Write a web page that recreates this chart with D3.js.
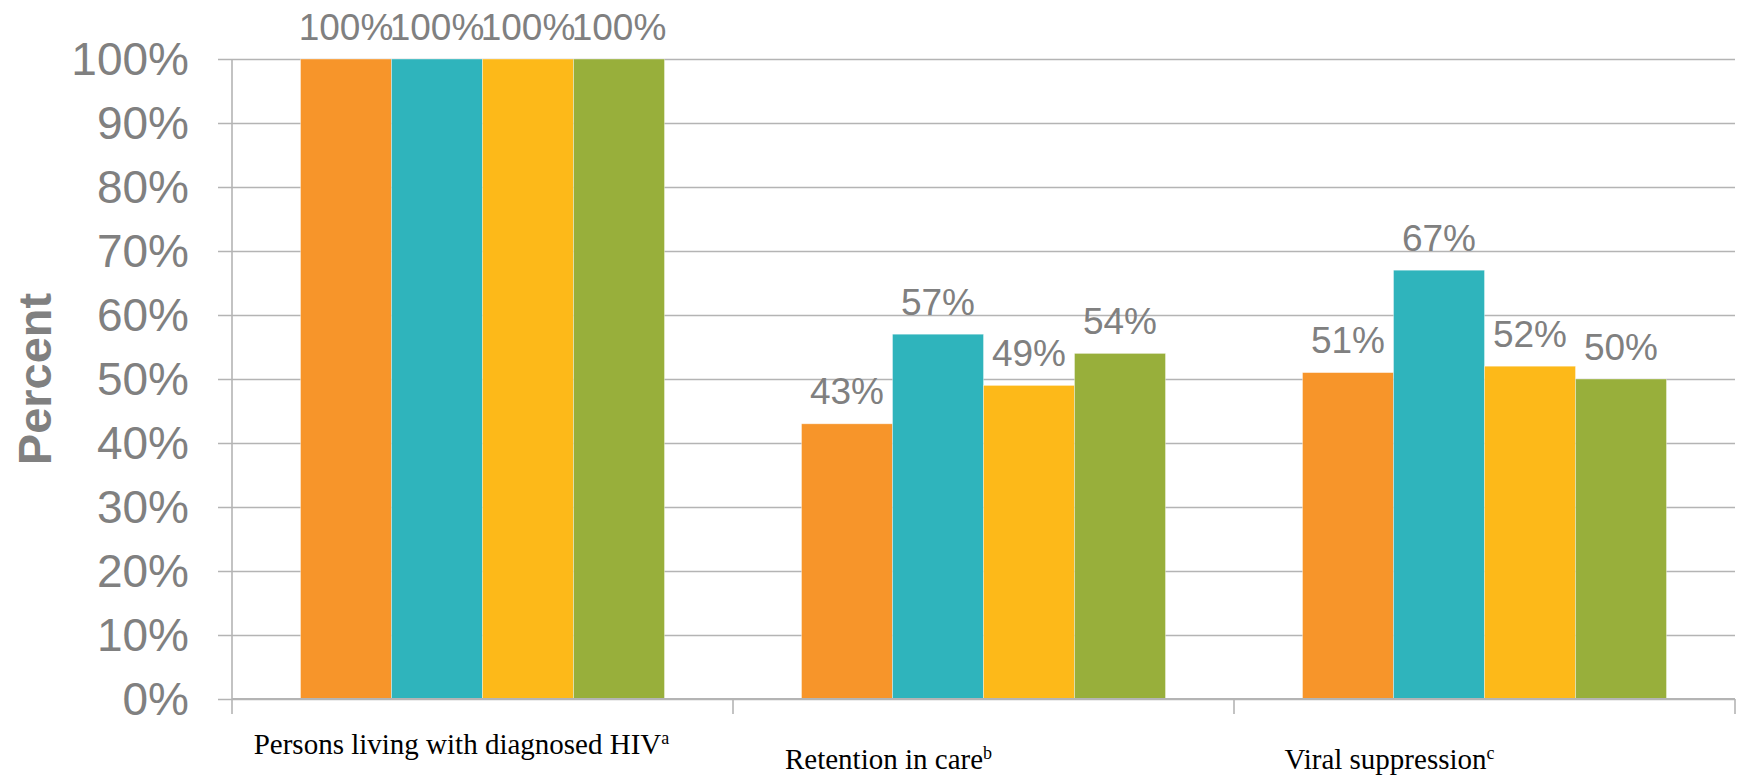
<!DOCTYPE html>
<html>
<head>
<meta charset="utf-8">
<script src="https://cdn.jsdelivr.net/npm/d3@7"></script>
<style>
  html, body { margin: 0; padding: 0; background: #ffffff; }
  svg { display: block; }
</style>
</head>
<body>
<svg id="chart" width="1741" height="777"></svg>
<script>
// ---- data ----
const categories = ["Persons living with diagnosed HIV", "Retention in care", "Viral suppression"];
const categorySuperscripts = ["a", "b", "c"];
const seriesNames = ["Series 1", "Series 2", "Series 3", "Series 4"];
const series1 = [100, 43, 51];
const series2 = [100, 57, 67];
const series3 = [100, 49, 52];
const series4 = [100, 54, 50];
const yTickValues = [0, 10, 20, 30, 40, 50, 60, 70, 80, 90, 100];
const yTickLabels = ["0%", "10%", "20%", "30%", "40%", "50%", "60%", "70%", "80%", "90%", "100%"];
const seriesColors = ["#F7952A", "#2FB4BC", "#FDB919", "#98AF3B"];

const allSeries = [series1, series2, series3, series4];

// ---- layout ----
const svg = d3.select("#chart");
const mLeft = 232, mRight = 1735, mTop = 59, mBottom = 699;
const gridColor = "#b4b4b4";
const textGray = "#808080";

const x0 = d3.scaleBand().domain(categories).range([mLeft, mRight]).paddingInner(0).paddingOuter(0);
const x1 = d3.scaleBand().domain(seriesNames).range([0, x0.bandwidth()]).paddingInner(0).paddingOuter(0.753);
const y = d3.scaleLinear().domain([0, 100]).range([mBottom, mTop]);
const color = d3.scaleOrdinal().domain(seriesNames).range(seriesColors);

// gridlines extending left as tick marks
const gy = svg.append("g")
  .attr("transform", `translate(${mRight},0)`)
  .call(d3.axisLeft(y).tickValues(yTickValues).tickSize(mRight - mLeft + 14).tickFormat(""));
gy.select(".domain").remove();
gy.selectAll(".tick line").attr("stroke", gridColor).attr("stroke-width", 1.6);

// y tick labels
svg.append("g").selectAll("text")
  .data(yTickValues)
  .join("text")
  .attr("x", 189)
  .attr("y", d => y(d))
  .attr("dy", "0.35em")
  .attr("text-anchor", "end")
  .attr("font-family", "Liberation Sans, Arial, sans-serif")
  .attr("font-size", 46)
  .attr("fill", textGray)
  .text((d, i) => yTickLabels[i]);

// bars
const groups = svg.append("g").selectAll("g")
  .data(categories)
  .join("g")
  .attr("transform", d => `translate(${x0(d)},0)`);

groups.selectAll("rect")
  .data((d, ci) => seriesNames.map((s, si) => ({ s, v: allSeries[si][ci] })))
  .join("rect")
  .attr("x", d => x1(d.s))
  .attr("y", d => y(d.v))
  .attr("width", x1.bandwidth())
  .attr("height", d => y(0) - y(d.v))
  .attr("fill", d => color(d.s))
  .attr("stroke", "#ffffff")
  .attr("stroke-opacity", 0.45)
  .attr("stroke-width", 0.8);

// value labels
groups.selectAll("text.val")
  .data((d, ci) => seriesNames.map((s, si) => ({ s, v: allSeries[si][ci] })))
  .join("text")
  .attr("class", "val")
  .attr("x", d => x1(d.s) + x1.bandwidth() / 2)
  .attr("y", d => y(d.v) - 19.5)
  .attr("text-anchor", "middle")
  .attr("font-family", "Liberation Sans, Arial, sans-serif")
  .attr("font-size", 37)
  .attr("fill", textGray)
  .text(d => d.v + "%");

// x axis line and category ticks
const xAxisG = svg.append("g");
xAxisG.append("line")
  .attr("x1", mLeft).attr("x2", mRight)
  .attr("y1", y(0)).attr("y2", y(0))
  .attr("stroke", gridColor).attr("stroke-width", 2);
const boundaries = categories.map(c => x0(c)).concat([x0(categories[categories.length - 1]) + x0.bandwidth()]);
xAxisG.selectAll("line.tk")
  .data(boundaries)
  .join("line")
  .attr("class", "tk")
  .attr("x1", d => d).attr("x2", d => d)
  .attr("y1", d => d === mLeft ? mTop : y(0))
  .attr("y2", y(0) + 15)
  .attr("stroke", gridColor).attr("stroke-width", 1.6);

// category labels
const labelDx = [-21, -95, -95];
const labelY = [754, 769, 769];
const catLabels = svg.append("g").selectAll("text")
  .data(categories)
  .join("text")
  .attr("x", (d, i) => x0(d) + x0.bandwidth() / 2 + labelDx[i])
  .attr("y", (d, i) => labelY[i])
  .attr("text-anchor", "middle")
  .attr("font-family", "Liberation Serif, Times New Roman, serif")
  .attr("font-size", 29)
  .attr("fill", "#000000");
catLabels.append("tspan").text(d => d);
catLabels.append("tspan")
  .attr("dy", -10)
  .attr("font-size", 18)
  .text((d, i) => categorySuperscripts[i]);

// y axis title
svg.append("text")
  .attr("transform", `translate(51,${(mTop + mBottom) / 2}) rotate(-90)`)
  .attr("text-anchor", "middle")
  .attr("font-family", "Liberation Sans, Arial, sans-serif")
  .attr("font-size", 47)
  .attr("font-weight", "bold")
  .attr("fill", textGray)
  .text("Percent");
</script>
</body>
</html>
